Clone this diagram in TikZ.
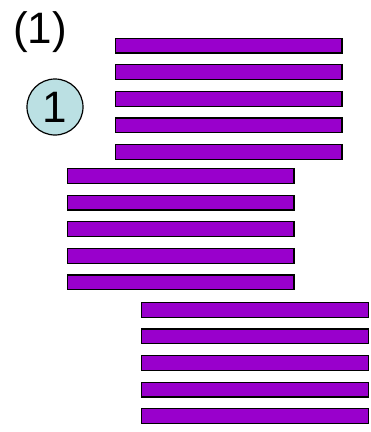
\documentclass[tikz,border=0pt]{standalone}
\usepackage{fontspec}
\setmainfont{Liberation Sans}
\usetikzlibrary{positioning}
\definecolor{barpurple}{RGB}{153,0,204}
\definecolor{roundblue}{RGB}{187,224,227}
\tikzset{
    bar/.style={draw=black, line width=1.2pt, fill=barpurple, minimum width=226.8pt, minimum height=14.8pt, inner sep=0pt},
    bigtext/.style={font=\fontsize{44}{52}\selectfont, inner sep=0pt}
}

\begin{document}
\begin{tikzpicture}[x=1pt,y=-1pt,node distance=26.6pt]
    \useasboundingbox (0,0) rectangle (371,432);

    \node[bigtext] (caption) at (40,32.5) {(1)};
    \node[bigtext, circle, draw=black, line width=1.2pt, fill=roundblue, minimum size=56pt] (one) at (55,107) {1};

    \begin{scope}
        \draw (228.5,45.5) node[bar] (TA) {};
        \node[bar, below of=TA] (TB) {};
        \node[bar, below of=TB] (TC) {};
        \node[bar, below of=TC] (TD) {};
        \node[bar, below of=TD] (TE) {};
    \end{scope}

    \begin{scope}
        \draw (180.5,176) node[bar] (MA) {};
        \node[bar, below of=MA] (MB) {};
        \node[bar, below of=MB] (MC) {};
        \node[bar, below of=MC] (MD) {};
        \node[bar, below of=MD] (ME) {};
    \end{scope}

    \begin{scope}
        \draw (255,309.7) node[bar] (BA) {};
        \node[bar, below of=BA] (BB) {};
        \node[bar, below of=BB] (BC) {};
        \node[bar, below of=BC] (BD) {};
        \node[bar, below of=BD] (BE) {};
    \end{scope}
\end{tikzpicture}
\end{document}
